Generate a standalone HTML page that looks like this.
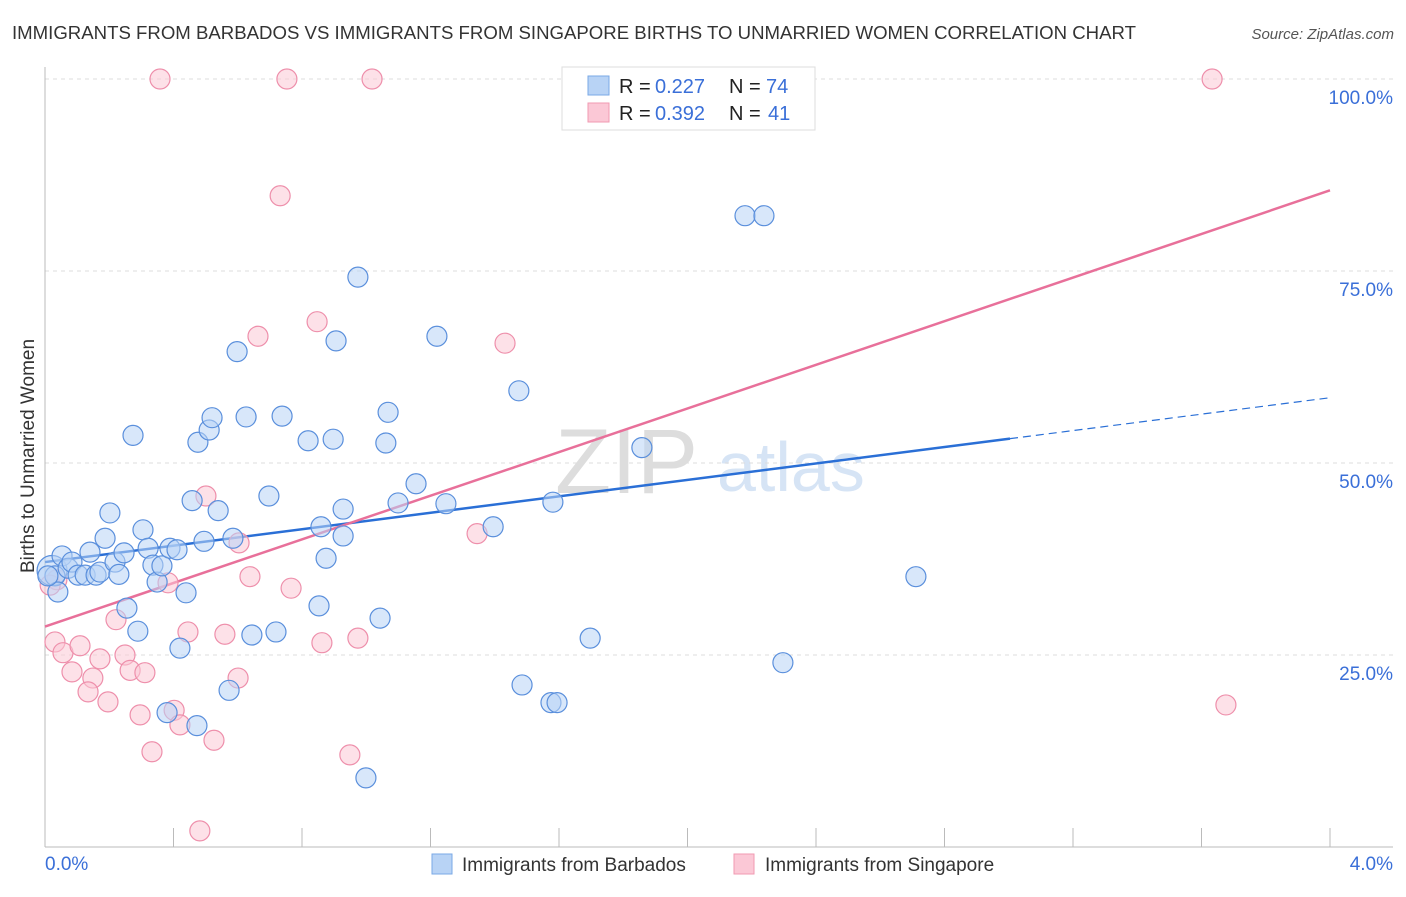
<!DOCTYPE html>
<html><head><meta charset="utf-8"><style>
body{margin:0;background:#fff;font-family:"Liberation Sans",sans-serif}
svg text{font-family:"Liberation Sans",sans-serif}
</style></head><body>
<svg id="chart" width="1406" height="892" xmlns="http://www.w3.org/2000/svg">
<text x="12" y="39" font-size="18" fill="#333" textLength="1124" lengthAdjust="spacingAndGlyphs">IMMIGRANTS FROM BARBADOS VS IMMIGRANTS FROM SINGAPORE BIRTHS TO UNMARRIED WOMEN CORRELATION CHART</text>
<text x="1394" y="39" font-size="15" fill="#555" text-anchor="end" font-style="italic">Source: ZipAtlas.com</text>
<g>
<text x="555" y="493" font-size="92" fill="#ddd" font-family="Liberation Serif" >ZIP</text>
<text x="717" y="491" font-size="70" fill="#d6e4f5">atlas</text>
</g>
<g id="grid"></g>
<g id="axes"></g>
<g id="lines"></g>
<g id="pts"></g>
<text transform="translate(34,456) rotate(-90)" font-size="19" fill="#333" text-anchor="middle">Births to Unmarried Women</text>
<g>
<rect x="562" y="67" width="253" height="63" fill="#fff" stroke="#ddd"/>
<rect x="588" y="76" width="21" height="19" fill="#b8d3f5" stroke="#7aa8e6"/>
<rect x="588" y="103" width="21" height="19" fill="#fbc8d6" stroke="#f09ab2"/>
<text x="619" y="93" font-size="20" fill="#222">R =</text>
<text x="655" y="93" font-size="20" fill="#3a6fd8">0.227</text>
<text x="729" y="93" font-size="20" fill="#222">N =</text>
<text x="766" y="93" font-size="20" fill="#3a6fd8">74</text>
<text x="619" y="120" font-size="20" fill="#222">R =</text>
<text x="655" y="120" font-size="20" fill="#3a6fd8">0.392</text>
<text x="729" y="120" font-size="20" fill="#222">N =</text>
<text x="768" y="120" font-size="20" fill="#3a6fd8">41</text>
</g>
<g>
<rect x="432" y="854" width="20" height="20" fill="#b8d3f5" stroke="#7aa8e6"/>
<text x="462" y="871" font-size="19" fill="#333">Immigrants from Barbados</text>
<rect x="734" y="854" width="20" height="20" fill="#fbc8d6" stroke="#f09ab2"/>
<text x="765" y="871" font-size="19" fill="#333">Immigrants from Singapore</text>
</g>
</svg>
<script>
const blueX=[0.022,0.031,0.040,0.053,0.072,0.084,0.103,0.125,0.140,0.159,0.171,0.187,0.202,0.218,0.230,0.246,0.255,0.274,0.289,0.305,0.321,0.336,0.349,0.364,0.380,0.389,0.411,0.420,0.439,0.458,0.473,0.476,0.495,0.511,0.520,0.539,0.573,0.585,0.598,0.626,0.644,0.697,0.719,0.738,0.819,0.853,0.859,0.875,0.897,0.906,0.928,0.928,0.974,0.999,1.043,1.061,1.068,1.099,1.155,1.220,1.248,1.395,1.475,1.485,1.575,1.581,1.594,1.697,1.858,2.179,2.238,2.297,2.711,0.009];
const blueY=[36.0,35.3,33.2,37.9,36.3,37.1,35.4,35.4,38.4,35.4,35.8,40.2,43.5,37.1,35.5,38.3,31.1,53.6,28.1,41.3,38.9,36.7,34.5,36.6,17.5,38.9,38.7,25.9,33.1,45.1,15.8,52.7,39.8,54.3,55.9,43.8,20.4,40.2,64.5,56.0,27.6,45.7,28.0,56.1,52.9,31.4,41.7,37.6,53.1,65.9,44.0,40.5,74.2,9.0,29.8,52.6,56.6,44.8,47.3,66.5,44.7,41.7,59.4,21.1,18.8,44.9,18.8,27.2,52.0,82.2,82.2,24.0,35.2,35.3];
const pinkX=[0.358,0.753,1.018,3.633,0.732,0.847,0.663,1.432,0.501,0.604,1.345,0.383,0.638,0.766,0.037,0.031,0.056,0.084,0.109,0.149,0.134,0.171,0.196,0.221,0.249,0.265,0.296,0.311,0.333,0.402,0.420,0.445,0.526,0.560,0.601,0.862,0.949,0.974,0.482,3.676,0.016];
const pinkY=[100,100,100,100,84.8,68.4,66.5,65.6,45.7,39.6,40.8,34.4,35.2,33.7,34.8,26.7,25.3,22.8,26.2,22.0,20.2,24.5,18.9,29.6,25.0,23.0,17.2,22.7,12.4,17.8,15.9,28.0,13.9,27.7,22.0,26.6,12.0,27.2,2.1,18.5,34.1];
const blueTrend=[37.1,5.35];
const pinkTrend=[28.7,14.2];
const yTicks=[25,50,75,100];
const yTickLabels=["25.0%","50.0%","75.0%","100.0%"];
const xTicks=[0,0.4,0.8,1.2,1.6,2.0,2.4,2.8,3.2,3.6,4.0];
const xEndLabels=["0.0%","4.0%"];
const NS="http://www.w3.org/2000/svg";
const X=v=>45+v/4*1285, Y=v=>847-v*7.68;
function mk(t,a,p){const e=document.createElementNS(NS,t);for(const k in a)e.setAttribute(k,a[k]);document.getElementById(p).appendChild(e);return e;}
yTicks.forEach((t,i)=>{
 const g=mk('line',{x1:45,x2:1393,y1:Y(t),y2:Y(t),stroke:'#ddd','stroke-dasharray':'4,4'},'grid');
 
 
 const l=mk('text',{x:1393,y:Y(t)+25,'font-size':19,fill:'#3a6fd8','text-anchor':'end'},'axes');l.textContent=yTickLabels[i];
 
 
});
const ax=mk('line',{x1:45,x2:45,y1:67,y2:847,stroke:'#bbb'},'axes');


const bx=mk('line',{x1:45,x2:1393,y1:847,y2:847,stroke:'#bbb'},'axes');


xTicks.forEach(t=>{const e=mk('line',{x1:X(t),x2:X(t),y1:828,y2:847,stroke:'#bbb'},'axes');
 
 });
[[0,'start',45],[1,'end',1393]].forEach(([i,a,x])=>{const e=mk('text',{x:x,y:870,'font-size':19,fill:'#3a6fd8','text-anchor':a},'axes');e.textContent=xEndLabels[i];
 
 });
function pts(xs,ys,fill,stroke,name){xs.forEach((x,i)=>{const big=(x<0.03&&(name==='point-barbados'?i<3:i===15));
 const c=mk('circle',{cx:X(x),cy:Y(ys[i]),r:big?15:10,fill:fill,'fill-opacity':0.55,stroke:stroke,'stroke-width':1.2},'pts');
 
 });}
pts(pinkX,pinkY,'#fbc8d6','#ee8fab','point-singapore');
pts(blueX,blueY,'#b8d3f5','#5a8fdc','point-barbados');
const xb=3.004;
let e=mk('line',{x1:X(0),y1:Y(blueTrend[0]),x2:X(xb),y2:Y(blueTrend[0]+blueTrend[1]*xb),stroke:'#2a6fd6','stroke-width':2.5},'lines');


e=mk('line',{x1:X(xb),y1:Y(blueTrend[0]+blueTrend[1]*xb),x2:X(4),y2:Y(blueTrend[0]+blueTrend[1]*4),stroke:'#2a6fd6','stroke-width':1.2,'stroke-dasharray':'8,5'},'lines');


e=mk('line',{x1:X(0),y1:Y(pinkTrend[0]),x2:X(4),y2:Y(pinkTrend[0]+pinkTrend[1]*4),stroke:'#e8709a','stroke-width':2.5},'lines');


document.getElementById('chart').appendChild(document.getElementById('pts'));
</script>
</body></html>
